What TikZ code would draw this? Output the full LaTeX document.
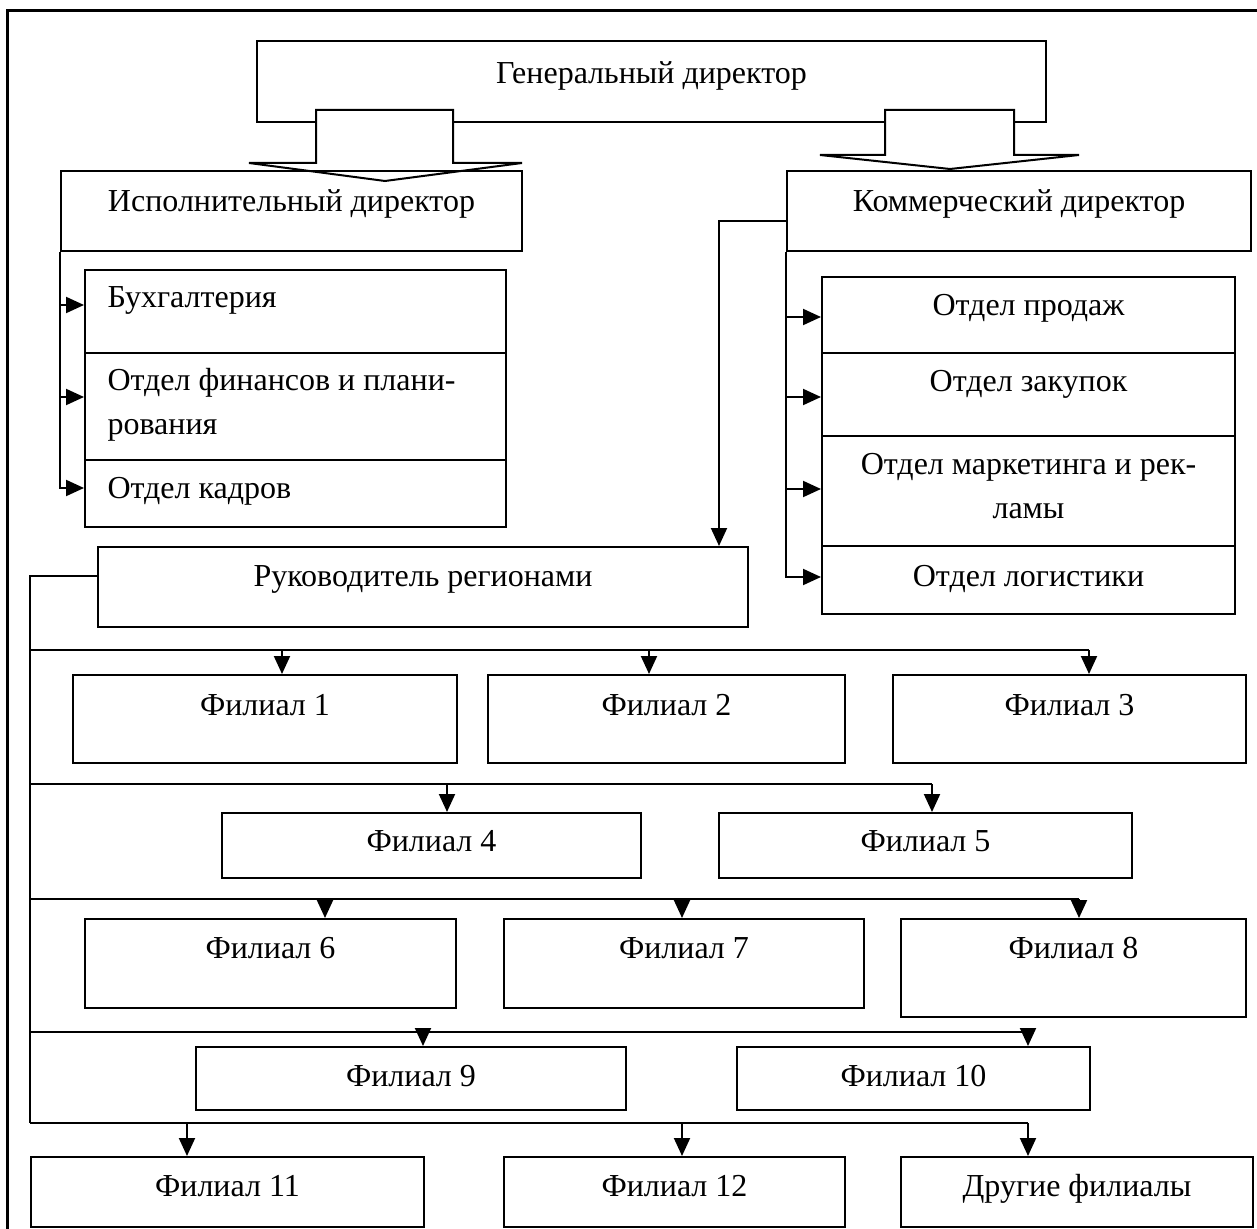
\documentclass[tikz,border=0pt]{standalone}
\usepackage{fontspec}
\setmainfont{Liberation Serif}
\usetikzlibrary{arrows.meta}
\tikzset{
  box/.style={draw, line width=1pt, inner sep=0pt, fill=white, font=\fontsize{16}{22}\selectfont},
  conn/.style={line width=1pt},
  arr/.style={conn, -{Triangle[length=9pt,width=8pt]}},
  lcell/.style={text width=188pt, align=flush left},
  rcell/.style={text width=190pt, align=flush center},
  blockarrow/.style={line width=1pt, fill=white, line join=miter},
  frame/.style={line width=1.5pt}
}
% #1 name, #2 x1, #3 y1, #4 x2, #5 y2, #6 first baseline, #7 options, #8 text
\newcommand\cellbox[8]{%
  \pgfmathsetmacro\cbw{(#4-#2)/2}%
  \pgfmathsetmacro\cbh{(#6-#3)/2}%
  \pgfmathsetmacro\cbd{(#5-#6)/2}%
  \node[box, #7, minimum width=\cbw pt, text height=\cbh pt, text depth=\cbd pt, anchor=north west] (#1) at (#2,#3) {#8};%
}
\newcommand\dropto[3]{\draw[arr] (#1,#2) -- (#3.north -| #1,0);}
\begin{document}
\begin{tikzpicture}[x=0.5pt, y=-0.5pt]
\useasboundingbox (0,0) rectangle (1257,1229);
\draw[frame] (7,1235) -- (7,11) -- (1262,11);

% top
\cellbox{g}{256}{40}{1045}{121}{83}{}{Генеральный директор}
\draw[blockarrow] (316,110) -- (453,110) -- (453,163) -- (522,163) -- (385,181) -- (249,163) -- (316,163) -- cycle;
\draw[blockarrow] (885,110) -- (1014,110) -- (1014,155) -- (1079,155) -- (950,169) -- (820,155) -- (885,155) -- cycle;
\cellbox{i}{60}{170}{521}{250}{211}{fill=none}{Исполнительный директор}
\cellbox{k}{786}{170}{1250}{250}{211}{}{Коммерческий директор}

% left departments
\cellbox{l1}{84}{269}{505}{352}{307}{lcell}{Бухгалтерия}
\cellbox{l2}{84}{352}{505}{459}{390}{lcell}{Отдел финансов и плани-\\рования}
\cellbox{l3}{84}{459}{505}{526}{497}{lcell}{Отдел кадров}
\draw[arr] (i.south west) |- (l3.west |- 0,488);
\draw[arr] (i.south west |- 0,305) -- (l1.west |- 0,305);
\draw[arr] (i.south west |- 0,397) -- (l2.west |- 0,397);

% right departments
\cellbox{d1}{821}{276}{1234}{352}{315}{}{Отдел продаж}
\cellbox{d2}{821}{352}{1234}{435}{391}{}{Отдел закупок}
\cellbox{d3}{821}{435}{1234}{545}{473}{rcell}{Отдел маркетинга и рек-\\ламы}
\cellbox{d4}{821}{545}{1234}{613}{585}{}{Отдел логистики}
\draw[arr] (k.south west) |- (d4.west |- 0,577);
\draw[arr] (k.south west |- 0,317) -- (d1.west |- 0,317);
\draw[arr] (k.south west |- 0,397) -- (d2.west |- 0,397);
\draw[arr] (k.south west |- 0,489) -- (d3.west |- 0,489);

% regions
\cellbox{r}{97}{546}{747}{626}{585}{}{Руководитель регионами}
\draw[arr] (k.west |- 0,221) -| (r.north -| 719,0);

\cellbox{f1}{72}{674}{456}{762}{714}{}{Филиал 1}
\cellbox{f2}{487}{674}{844}{762}{714}{}{Филиал 2}
\cellbox{f3}{892}{674}{1245}{762}{714}{}{Филиал 3}
\cellbox{f4}{221}{812}{640}{877}{850}{}{Филиал 4}
\cellbox{f5}{718}{812}{1131}{877}{850}{}{Филиал 5}
\cellbox{f6}{84}{918}{455}{1007}{957}{}{Филиал 6}
\cellbox{f7}{503}{918}{863}{1007}{957}{}{Филиал 7}
\cellbox{f8}{900}{918}{1245}{1016}{957}{}{Филиал 8}
\cellbox{f9}{195}{1046}{625}{1109}{1085}{}{Филиал 9}
\cellbox{f10}{736}{1046}{1089}{1109}{1085}{}{Филиал 10}
\cellbox{f11}{30}{1156}{423}{1226}{1195}{}{Филиал 11}
\cellbox{f12}{503}{1156}{844}{1226}{1195}{}{Филиал 12}
\cellbox{f13}{900}{1156}{1252}{1226}{1195}{}{Другие филиалы}

\draw[conn] (r.west |- 0,576) -| (30,1123);
\draw[conn] (30,650) -- (1089,650);
\draw[conn] (30,784) -- (932,784);
\draw[conn] (30,899) -- (1079,899);
\draw[conn] (30,1032) -- (1028,1032);
\draw[conn] (30,1123) -- (1028,1123);
\dropto{282}{650}{f1}
\dropto{649}{650}{f2}
\dropto{1089}{650}{f3}
\dropto{447}{784}{f4}
\dropto{932}{784}{f5}
\dropto{325}{899}{f6}
\dropto{682}{899}{f7}
\dropto{1079}{899}{f8}
\dropto{423}{1032}{f9}
\dropto{1028}{1032}{f10}
\dropto{187}{1123}{f11}
\dropto{682}{1123}{f12}
\dropto{1028}{1123}{f13}
\end{tikzpicture}
\end{document}
